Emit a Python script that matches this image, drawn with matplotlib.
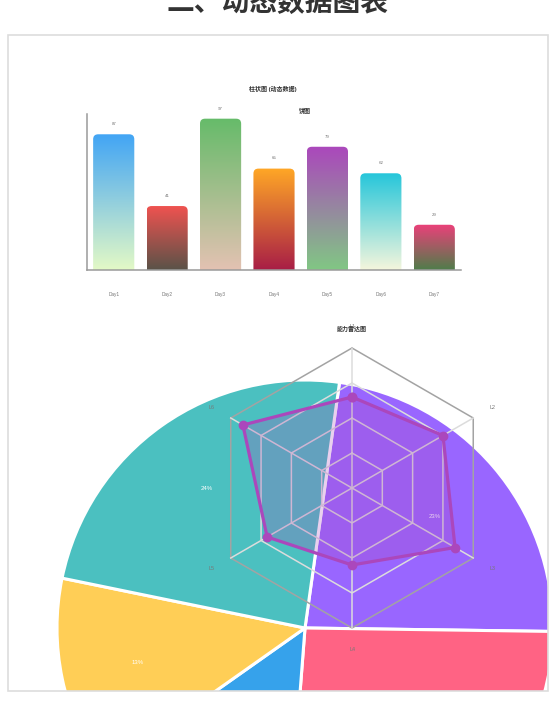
import numpy as np
import matplotlib
matplotlib.use('Agg')
import matplotlib.pyplot as plt
from matplotlib.patches import FancyBboxPatch, Rectangle
from matplotlib.colors import to_rgb

plt.rcParams['font.family'] = ['Liberation Sans', 'Noto Sans CJK SC', 'DejaVu Sans']

# 柱状图数据
days = ['Day1', 'Day2', 'Day3', 'Day4', 'Day5', 'Day6', 'Day7']
bar_values = [87, 41, 97, 65, 79, 62, 29]
bar_top_colors = ['#42A5F5', '#EF5350', '#66BB6A', '#FFA726', '#AB47BC', '#26C6DA', '#EC407A']
bar_bottom_colors = ['#e3f9c6', '#5a5248', '#e3c2b2', '#a81e46', '#81C784', '#f4f6dd', '#4f7d4a']

# 饼图数据 (顺时针)
pie_values = [23, 26, 14, 13, 24]
pie_colors = ['#9966FF', '#FF6384', '#36A2EB', '#FFCE56', '#4BC0C0']

# 雷达图数据
radar_labels = ['L1', 'L2', 'L3', 'L4', 'L5', 'L6']
radar_values = [65, 75, 85, 55, 70, 90]
radar_levels = [25, 50, 75, 100]

W, H = 558, 716
fig = plt.figure(figsize=(W / 100, H / 100), dpi=100)


def fx(px):
    return px / W


def fy(py):
    return 1 - py / H


# ---- 饼图 (被卡片裁剪) ----
ax_pie = fig.add_axes([fx(8), fy(691), fx(540), 656 / H])
wedges, txts, pcts = ax_pie.pie(pie_values, colors=pie_colors, startangle=82, counterclock=False,
                                center=(305, H - 628), radius=248, autopct='%d%%', pctdistance=0.69,
                                wedgeprops=dict(edgecolor='white', linewidth=2.2),
                                textprops=dict(color='white', fontsize=4.3))
for w in wedges:
    w.set_clip_on(True)
    w.set_clip_path(ax_pie.patch)
# 卡片之外的百分比标签不显示
for t in pcts:
    px, py = t.get_position()
    if py < H - 691:
        t.set_visible(False)
ax_pie.set_xlim(8, 548)
ax_pie.set_ylim(H - 691, H - 35)
ax_pie.set_aspect('auto')
ax_pie.set_axis_off()

# ---- 柱状图 ----
ax_bar = fig.add_axes([fx(87), fy(270), fx(374), 156 / H])
ax_bar.patch.set_alpha(0)
xr = 5 / 53.4
yr = 5 / 1.56
for i, v in enumerate(bar_values):
    x0 = i - 0.385
    x1 = i + 0.385
    patch = FancyBboxPatch((x0, -10), x1 - x0, v + 10,
                           boxstyle='round,pad=0,rounding_size=%f' % xr,
                           mutation_aspect=yr / xr, facecolor='none', edgecolor='none')
    ax_bar.add_patch(patch)
    c_top = np.array(to_rgb(bar_top_colors[i]))
    c_bot = np.array(to_rgb(bar_bottom_colors[i]))
    t = np.linspace(0, 1, 128)[:, None]
    grad = (c_top * (1 - t) + c_bot * t)[:, None, :]
    im = ax_bar.imshow(grad, extent=(x0, x1, 0, v), origin='upper',
                       aspect='auto', interpolation='bilinear')
    im.set_clip_path(patch)
    ax_bar.text(i, v + 6.5, str(v), ha='center', va='center',
                fontsize=3.2, color='#777777')
ax_bar.set_xlim(-0.5, 6.5)
ax_bar.set_ylim(0, 100)
ax_bar.set_xticks(range(len(days)))
ax_bar.set_xticklabels(days)
ax_bar.set_yticks([])
ax_bar.tick_params(axis='x', length=0, pad=15.5, labelsize=3.4, labelcolor='#777777')
for s in ['top', 'right']:
    ax_bar.spines[s].set_visible(False)
for s in ['left', 'bottom']:
    ax_bar.spines[s].set_color('#9a9a9a')
    ax_bar.spines[s].set_linewidth(1.1)

# ---- 雷达图 ----
ax_rad = fig.add_axes([fx(352 - 140), fy(488 + 140), fx(280), 280 / H], projection='polar')
ax_rad.set_theta_offset(np.pi / 2)
ax_rad.set_theta_direction(-1)
theta = np.deg2rad(np.arange(len(radar_labels)) * 360 / len(radar_labels))
theta_c = np.append(theta, theta[0])
for lv in radar_levels:
    col = '#a3a3a3' if lv == radar_levels[-1] else '#dcdcdc'
    ax_rad.plot(theta_c, [lv] * len(theta_c), color=col, lw=1.1, clip_on=False, zorder=1)
for th in theta:
    ax_rad.plot([th, th], [0, radar_levels[-1]], color='#dcdcdc', lw=1.1, clip_on=False, zorder=1)
vals_c = radar_values + radar_values[:1]
ax_rad.fill(theta_c, vals_c, color='#AB47BC', alpha=0.25, zorder=2)
ax_rad.plot(theta_c, vals_c, color='#AB47BC', lw=2.3, marker='o', markersize=6,
            clip_on=False, zorder=3)
for th, lab in zip(theta, radar_labels):
    ax_rad.text(th, 115.7, lab, ha='center', va='center', fontsize=3.9, color='#777777')
ax_rad.set_ylim(0, 100)
ax_rad.set_axis_off()

# ---- 文本 ----
fig.text(fx(278), fy(12), '二、动态数据图表', ha='center', va='baseline',
         fontsize=20, fontweight='bold', color='#333333')
fig.text(fx(273), fy(89), '柱状图 (动态数据)', ha='center', va='center',
         fontsize=4.3, fontweight='bold', color='#333333')
fig.text(fx(305), fy(111), '饼图', ha='center', va='center',
         fontsize=4.3, fontweight='bold', color='#333333')
fig.text(fx(352), fy(329), '能力雷达图', ha='center', va='center',
         fontsize=4.3, fontweight='bold', color='#333333')

# 卡片边框
fig.patches.append(Rectangle((fx(8), fy(691)), fx(540), 656 / H, transform=fig.transFigure,
                             fill=False, edgecolor='#dddddd', linewidth=1.2, zorder=10))

fig.savefig('out.png', dpi=100)
